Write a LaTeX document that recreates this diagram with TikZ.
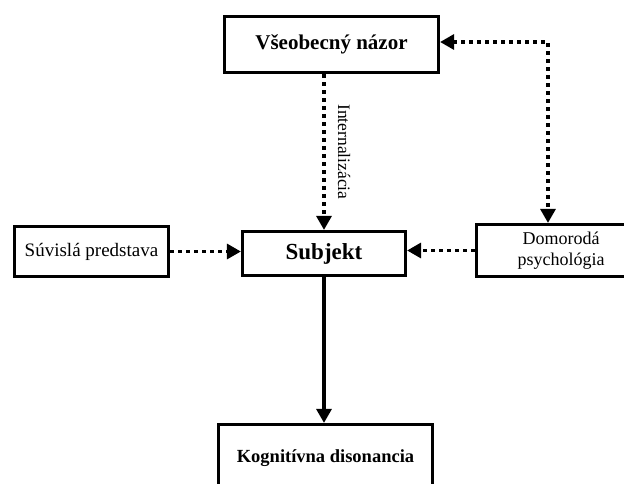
\documentclass[tikz,border=0pt]{standalone}
\usepackage{fontspec}
\setmainfont{Liberation Serif}
\usetikzlibrary{arrows.meta}
\begin{document}
\begin{tikzpicture}[x=1pt,y=-1pt,
  box/.style={draw, line width=3.2pt, inner sep=0pt, align=center},
  dotl/.style={line width=3.2pt, dash pattern=on 3.5pt off 4.5pt},
  solidl/.style={line width=3.2pt},
  tip/.style={-{Triangle[length=14pt,width=15pt]}},
  tipboth/.style={{Triangle[length=14pt,width=15pt]}-{Triangle[length=14pt,width=15pt]}}
]
\useasboundingbox (0,0) rectangle (624,484);
\clip (0,0) rectangle (624,484);
\node[box, minimum width=214pt, minimum height=56pt, font=\bfseries\fontsize{21}{24}\selectfont] (V) at (331.5,44.5) {Všeobecný názor};
\node[box, minimum width=163pt, minimum height=44pt, font=\bfseries\fontsize{23}{26}\selectfont] (S) at (324,253.5) {Subjekt};
\node[box, minimum width=154pt, minimum height=50pt, font=\fontsize{19}{22}\selectfont] (Su) at (91.5,251.5) {Súvislá predstava};
\node[box, minimum width=169pt, minimum height=52pt, font=\fontsize{18}{21}\selectfont] (D) at (561,250.5) {\raisebox{-2pt}{Domorodá}\\\raisebox{-2pt}{psychológia}};
\node[box, minimum width=214pt, minimum height=67.5pt, font=\bfseries\fontsize{18.5}{21}\selectfont] (K) at (325.5,458.25) {\raisebox{3pt}{Kognitívna disonancia}};
\coordinate (c) at (548,42);
\draw[dotl,tip] (S.north |- V.south) -- node[midway, xshift=20pt, rotate=-90, font=\fontsize{17.5}{20}\selectfont] {Internalizácia} (S.north);
\draw[dotl,tip] (Su.east) -- (Su.east -| S.west);
\draw[dotl,tip] (D.west) -- (D.west -| S.east);
\draw[dotl,tipboth] (V.east |- c) -- (c) -- (c |- D.north);
\draw[solidl,tip] (S.south) -- (S.south |- K.north);
\end{tikzpicture}
\end{document}
